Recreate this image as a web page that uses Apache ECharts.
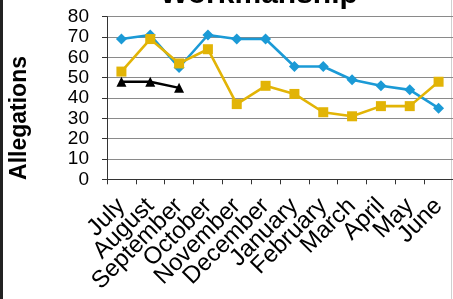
<!DOCTYPE html>
<html>
<head>
<meta charset="utf-8">
<title>Workmanship</title>
<script src="https://cdn.jsdelivr.net/npm/echarts@6/dist/echarts.min.js"></script>
<style>
  html, body { margin: 0; padding: 0; background: #fff; }
  #main { width: 453px; height: 299px; }
</style>
</head>
<body>
<div id="main"></div>
<script type="text/javascript">
	// 月份
	var months = ['July', 'August', 'September', 'October', 'November', 'December',
		'January', 'February', 'March', 'April', 'May', 'June'];
	// 三个年度的数据
	var blueYear = [69, 71, 55, 71, 69, 69, 55.5, 55.5, 49, 46, 44, 35];
	var goldYear = [53, 69, 57, 64, 37, 46, 42, 33, 31, 36, 36, 48];
	var blackYear = [48, 48, 45];
	var yTicks = { min: 0, max: 80, step: 10 };

	var chart = echarts.init(document.getElementById('main'));
	var font = 'Liberation Sans, Arial, sans-serif';

	var option = {
		backgroundColor: '#fff',
		animation: false,
		title: {
			text: 'Workmanship',
			left: 155,
			top: -25,
			textStyle: {
				color: '#000',
				fontSize: 30,
				fontWeight: 'bold',
				fontFamily: font
			}
		},
		grid: {
			left: 96,
			top: 16.7,
			bottom: 119.7,
			right: -5,
			containLabel: false
		},
		xAxis: {
			type: 'category',
			data: months,
			boundaryGap: true,
			axisLine: { lineStyle: { color: '#333', width: 1 } },
			axisTick: { show: true, length: 5, lineStyle: { color: '#333' } },
			axisLabel: {
				interval: 0,
				rotate: 45,
				margin: 23,
				color: '#000',
				fontSize: 24,
				fontFamily: font
			},
			splitLine: { show: false }
		},
		yAxis: {
			type: 'value',
			min: yTicks.min,
			max: yTicks.max,
			interval: yTicks.step,
			name: 'Allegations',
			nameLocation: 'middle',
			nameGap: 76,
			nameTextStyle: {
				color: '#000',
				fontSize: 23,
				fontWeight: 'bold',
				fontFamily: font,
				padding: [0, 40, 0, 0]
			},
			axisLine: { show: true, lineStyle: { color: '#333', width: 1 } },
			axisTick: { show: true, length: 5, lineStyle: { color: '#333' } },
			axisLabel: {
				margin: 18,
				color: '#000',
				fontSize: 19,
				fontFamily: font
			},
			splitLine: { show: true, lineStyle: { color: '#8a8a8a', width: 1.2 } }
		},
		series: [{
			name: 'blue',
			type: 'line',
			data: blueYear,
			symbol: 'diamond',
			symbolSize: 11,
			lineStyle: { color: '#1b9ad6', width: 2.6 },
			itemStyle: { color: '#1b9ad6' },
			z: 2
		}, {
			name: 'gold',
			type: 'line',
			data: goldYear,
			symbol: 'rect',
			symbolSize: 10,
			lineStyle: { color: '#e2b406', width: 2.6 },
			itemStyle: { color: '#e2b406' },
			z: 3
		}, {
			name: 'black',
			type: 'line',
			data: blackYear,
			symbol: 'triangle',
			symbolSize: 10,
			lineStyle: { color: '#000', width: 2.4 },
			itemStyle: { color: '#000' },
			z: 4
		}],
		graphic: [{
			type: 'rect',
			shape: { x: 0, y: 0, width: 3, height: 299 },
			style: { fill: '#222' }
		}, {
			type: 'rect',
			shape: { x: 451, y: 0, width: 1, height: 299 },
			style: { fill: '#d0d0d0' }
		}]
	};
	chart.setOption(option);
</script>
</body>
</html>
